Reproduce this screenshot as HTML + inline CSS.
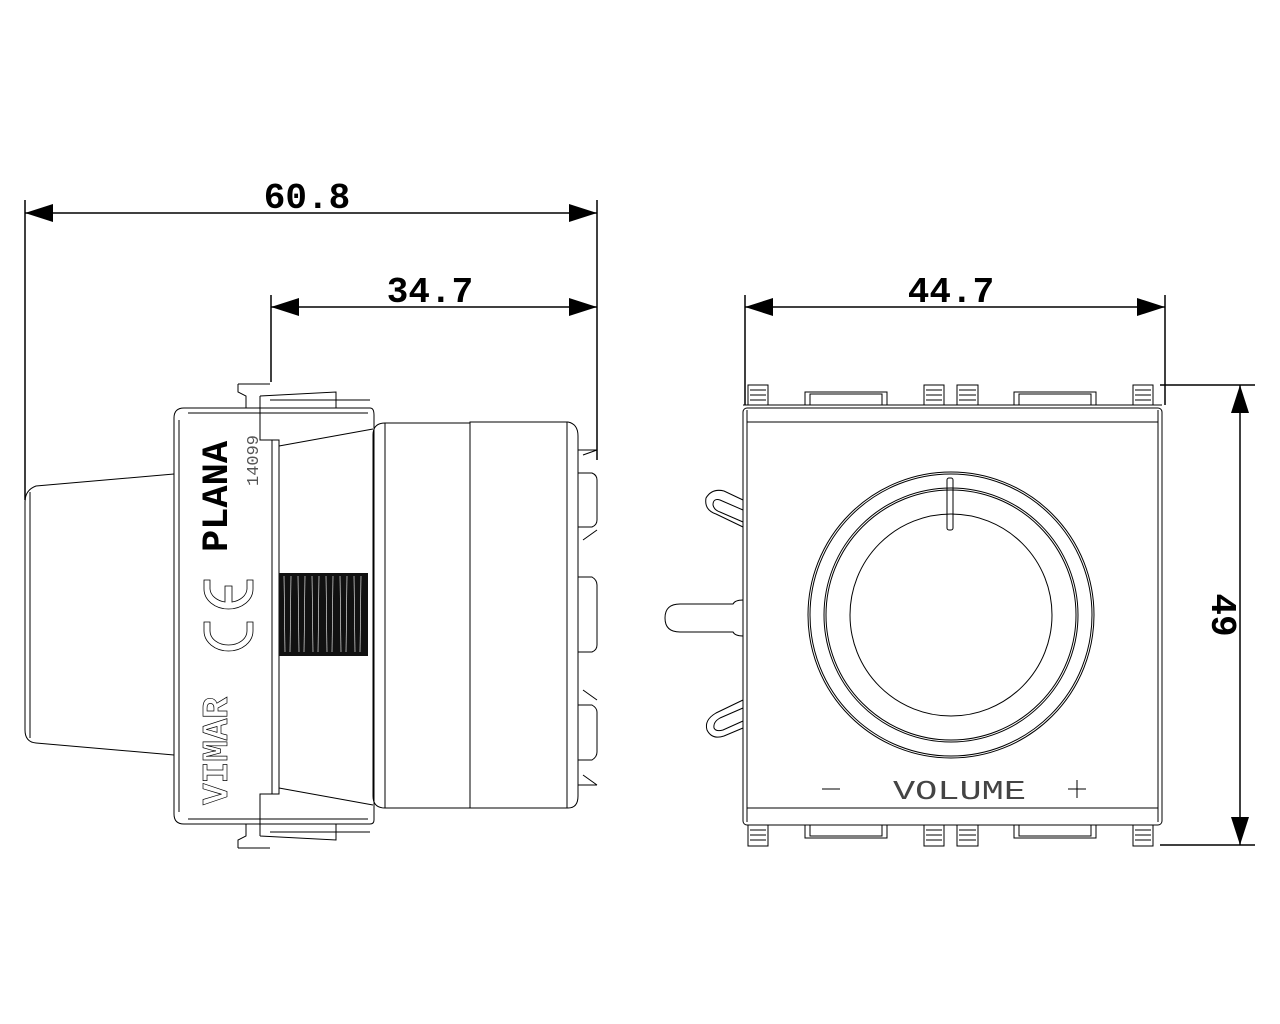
<!DOCTYPE html>
<html><head><meta charset="utf-8"><style>
html,body{margin:0;padding:0;background:#fff;}
svg{display:block}
text{font-family:"Liberation Mono","DejaVu Sans Mono",monospace;}
</style></head><body>
<svg width="1280" height="1024" viewBox="0 0 1280 1024" xmlns="http://www.w3.org/2000/svg">
<g stroke="#000" fill="none" stroke-width="1.5">
<line x1="25" y1="200" x2="25" y2="500"/>
<line x1="597" y1="200" x2="597" y2="460"/>
<line x1="25" y1="213" x2="597" y2="213"/>
<line x1="271" y1="295" x2="271" y2="382"/>
<line x1="271" y1="307" x2="597" y2="307"/>
<line x1="745" y1="295" x2="745" y2="405"/>
<line x1="1165" y1="295" x2="1165" y2="405"/>
<line x1="745" y1="307" x2="1165" y2="307"/>
<line x1="1160" y1="385" x2="1255" y2="385"/>
<line x1="1160" y1="845" x2="1255" y2="845"/>
<line x1="1240" y1="385" x2="1240" y2="845"/>
</g>
<g fill="#000">
<polygon points="25,213 53,204 53,222"/>
<polygon points="597,213 569,204 569,222"/>
<polygon points="271,307 299,298 299,316"/>
<polygon points="597,307 569,298 569,316"/>
<polygon points="745,307 773,298 773,316"/>
<polygon points="1165,307 1137,298 1137,316"/>
<polygon points="1240,385 1231,413 1249,413"/>
<polygon points="1240,845 1231,817 1249,817"/>
</g>
<g font-size="36" fill="#000" font-weight="bold" text-anchor="middle">
<text x="307" y="208">60.8</text>
<text x="430" y="302">34.7</text>
<text x="951" y="302">44.7</text>
<text transform="translate(1212,615) rotate(90)" x="0" y="0">49</text>
</g>

<!-- LEFT DEVICE -->
<g stroke="#000" fill="none" stroke-width="1">
<path d="M174,474 L36,486 Q25,490 25,502 L25,730 Q25,742 36,743 L174,755"/>
<line x1="30" y1="492" x2="30" y2="738"/>
<path d="M184,408 L370,408 Q374,408 374,415 L374,820 Q374,824 370,824 L184,824 Q174,824 174,814 L174,418 Q174,408 184,408 Z"/>
<path d="M188,413 L368,413 M188,819 L368,819 M179,420 L179,812"/>
<line x1="279" y1="446" x2="279" y2="788"/>
<line x1="272" y1="440" x2="272" y2="794"/>
<path d="M238,384 L270,384 M238,384 L238,392 L246,396 L246,408"/>
<path d="M260,396 L336,392 L336,408 M260,396 L260,440 L279,440 L279,446"/>
<path d="M270,400 L370,400"/>
<path d="M238,848 L270,848 M238,848 L238,840 L246,836 L246,824"/>
<path d="M260,836 L336,840 L336,824 M260,836 L260,794 L279,794 L279,788"/>
<path d="M270,832 L370,832"/>
<line x1="279" y1="446" x2="373" y2="429"/>
<line x1="279" y1="788" x2="373" y2="805"/>
<path d="M470,423 L385,423 Q373,423 373,435 L373,796 Q373,808 385,808 L470,808"/>
<line x1="385" y1="423" x2="385" y2="808"/>
<path d="M470,422 L568,422 Q578,424 578,436 L578,796 Q578,808 568,808 L470,808 Z"/>
<line x1="567" y1="422" x2="567" y2="808"/>
<path d="M578,450 L597,450 M578,473 L592,473 Q597,475 597,480 L597,520 Q597,525 592,527 L578,527 M578,577 L592,577 Q597,580 597,585 L597,645 Q597,650 592,652 L578,652 M578,705 L592,705 Q597,708 597,712 L597,752 Q597,757 592,760 L578,760 M578,785 L597,785"/>
<path d="M583,455 L597,450 M583,540 L597,530 M583,690 L597,700 M583,775 L597,785"/>
</g>
<rect x="279" y="573" width="89" height="83" fill="#111"/>
<g stroke="#fff" stroke-width="0.6">
<line x1="284" y1="576" x2="285" y2="652"/><line x1="291" y1="576" x2="290" y2="652"/><line x1="298" y1="576" x2="299" y2="652"/><line x1="305" y1="576" x2="304" y2="652"/><line x1="312" y1="576" x2="313" y2="652"/><line x1="319" y1="576" x2="318" y2="652"/><line x1="326" y1="576" x2="327" y2="652"/><line x1="333" y1="576" x2="332" y2="652"/><line x1="340" y1="576" x2="341" y2="652"/><line x1="347" y1="576" x2="346" y2="652"/><line x1="354" y1="576" x2="355" y2="652"/><line x1="361" y1="576" x2="360" y2="652"/>
</g>
<text transform="translate(227,552) rotate(-90)" font-family="Liberation Sans,sans-serif" font-weight="bold" font-size="37" fill="#000">PLANA</text>
<text transform="translate(258,486) rotate(-90)" font-family="Liberation Sans,sans-serif" font-size="17" fill="#555">14099</text>
<text transform="translate(227,805) rotate(-90)" font-family="Liberation Sans,sans-serif" font-weight="bold" font-size="36" fill="none" stroke="#000" stroke-width="0.7">VIMAR</text>
<g stroke="#000" stroke-width="0.8" fill="none">
<path d="M204,580 L204,589 A24.5,20 0 0 0 253,589 L253,580 L247,580 L247,589 A18.5,14 0 0 1 232,602 L232,586 L225,586 L225,602 A18.5,14 0 0 1 210,589 L210,580 Z"/>
<path d="M204,622 L204,631 A24.5,20 0 0 0 253,631 L253,622 L247,622 L247,631 A18.5,14 0 0 1 210,631 L210,622 Z"/>
</g>

<!-- RIGHT DEVICE -->
<g stroke="#000" fill="none" stroke-width="1">
<g>
<rect x="748" y="385" width="20" height="20"/><line x1="750" y1="390" x2="766" y2="390"/><line x1="750" y1="395" x2="766" y2="395"/><line x1="750" y1="400" x2="766" y2="400"/>
<rect x="924" y="385" width="20" height="20"/><line x1="926" y1="390" x2="942" y2="390"/><line x1="926" y1="395" x2="942" y2="395"/><line x1="926" y1="400" x2="942" y2="400"/>
<rect x="957" y="385" width="21" height="20"/><line x1="959" y1="390" x2="976" y2="390"/><line x1="959" y1="395" x2="976" y2="395"/><line x1="959" y1="400" x2="976" y2="400"/>
<rect x="1133" y="385" width="20" height="20"/><line x1="1135" y1="390" x2="1151" y2="390"/><line x1="1135" y1="395" x2="1151" y2="395"/><line x1="1135" y1="400" x2="1151" y2="400"/>
<rect x="805" y="392" width="82" height="13"/><rect x="810" y="394" width="72" height="11"/>
<rect x="1014" y="392" width="82" height="13"/><rect x="1019" y="394" width="72" height="11"/>
</g>
<g>
<rect x="748" y="825" width="20" height="21"/><line x1="750" y1="830" x2="766" y2="830"/><line x1="750" y1="835" x2="766" y2="835"/><line x1="750" y1="840" x2="766" y2="840"/>
<rect x="924" y="825" width="20" height="21"/><line x1="926" y1="830" x2="942" y2="830"/><line x1="926" y1="835" x2="942" y2="835"/><line x1="926" y1="840" x2="942" y2="840"/>
<rect x="957" y="825" width="21" height="21"/><line x1="959" y1="830" x2="976" y2="830"/><line x1="959" y1="835" x2="976" y2="835"/><line x1="959" y1="840" x2="976" y2="840"/>
<rect x="1133" y="825" width="20" height="21"/><line x1="1135" y1="830" x2="1151" y2="830"/><line x1="1135" y1="835" x2="1151" y2="835"/><line x1="1135" y1="840" x2="1151" y2="840"/>
<rect x="805" y="825" width="82" height="13"/><rect x="810" y="825" width="72" height="11"/>
<rect x="1014" y="825" width="82" height="13"/><rect x="1019" y="825" width="72" height="11"/>
</g>
<line x1="743" y1="405" x2="1162" y2="405"/>
<rect x="743" y="408" width="419" height="417" rx="4"/>
<line x1="747" y1="422" x2="1158" y2="422"/>
<line x1="747" y1="808" x2="1158" y2="808"/>
<line x1="747" y1="410" x2="747" y2="822"/>
<line x1="1158" y1="410" x2="1158" y2="822"/>
<circle cx="951" cy="615" r="143"/>
<circle cx="951" cy="615" r="141"/>
<circle cx="951" cy="615" r="127"/>
<circle cx="951" cy="615" r="125"/>
<circle cx="951" cy="615" r="101"/>
<rect x="947" y="478" width="6" height="52" rx="2"/>
<path d="M743,500 L724,491 Q712,488 706,498 Q704,510 716,514 L743,527"/>
<path d="M743,510 L720,500 Q713,498 713,505 Q714,510 720,512 L743,522"/>
<path d="M743,600 Q735,600 733,604 L680,604 Q665,604 665,618 Q665,632 680,632 L733,632 Q735,636 743,636"/>
<path d="M743,700 L716,713 Q704,720 707,730 Q712,740 724,736 L743,728"/>
<path d="M743,708 L720,718 Q713,722 714,728 Q716,732 723,730 L743,721"/>
</g>
<text x="893" y="799" textLength="133" lengthAdjust="spacingAndGlyphs" font-family="Liberation Sans,sans-serif" font-size="27" fill="#444">VOLUME</text>
<g stroke="#000" stroke-width="1">
<line x1="822" y1="789" x2="840" y2="789"/>
<line x1="1068" y1="789" x2="1086" y2="789"/>
<line x1="1077" y1="780" x2="1077" y2="798"/>
</g>
</svg>
</body></html>
